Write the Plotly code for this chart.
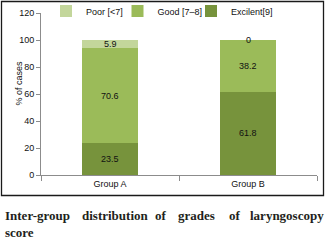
import plotly.graph_objects as go

groups = ["Group A", "Group B"]
series_names = ["Poor [<7]", "Good [7\u20138]", "Excilent[9]"]
excellent = [23.5, 61.8]
good = [70.6, 38.2]
poor = [5.9, 0]
y_ticks = [0, 20, 40, 60, 80, 100, 120]
y_title = "% of cases"
caption_line1 = ["Inter-group", "distribution", "of", "grades", "of", "laryngoscopy"]
caption_line2 = "score"

colors = {"Poor [<7]": "#c3d69b", "Good [7\u20138]": "#9bbb59", "Excilent[9]": "#77933c"}

W, H = 325, 240
L, R, T, B = 41, 8, 13, 65
pw, ph = W - L - R, H - T - B

def px(x):
    return (x - L) / pw

def py(y):
    return (H - B - y) / ph

# legend slot per series (left edge in pixels)
legend_slots = {"Poor [<7]": ("legend", 46), "Good [7\u20138]": ("legend2", 117.5),
                "Excilent[9]": ("legend3", 191)}

fig = go.Figure()
stack = [("Excilent[9]", excellent), ("Good [7\u20138]", good), ("Poor [<7]", poor)]
for name, vals in stack:
    fig.add_trace(go.Bar(x=groups, y=vals, name=name, marker_color=colors[name],
                         marker_line_width=0, width=0.41, hoverinfo="skip",
                         legend=legend_slots[name][0]))

cum = [0.0] * len(groups)
annotations = []
for name, vals in stack:
    for i, g in enumerate(groups):
        mid = cum[i] + vals[i] / 2
        lab = f"{vals[i]:g}"
        annotations.append(dict(x=g, y=mid, xref="x", yref="y", text=lab, showarrow=False,
                                font=dict(family="Liberation Sans, Arial", size=9, color="#111"),
                                yanchor="middle"))
        cum[i] += vals[i]

annotations.append(dict(x=px(11), y=py(83.5), xref="paper", yref="paper", text=y_title,
                        textangle=-90, showarrow=False,
                        font=dict(family="Liberation Sans, Arial", size=9, color="#111")))

cap_x = [3, 80, 153, 176, 227, 248]
cap_font = dict(family="Liberation Serif, Times New Roman", size=13, color="#231f20")
for w, x in zip(caption_line1, cap_x):
    annotations.append(dict(x=px(x), y=py(215), xref="paper", yref="paper", text=f"<b>{w}</b>",
                            showarrow=False, xanchor="left", yanchor="middle", font=cap_font))
annotations.append(dict(x=px(3), y=py(232), xref="paper", yref="paper", text=f"<b>{caption_line2}</b>",
                        showarrow=False, xanchor="left", yanchor="middle", font=cap_font))

legend_style = dict(orientation="h", xanchor="left", y=py(11), yanchor="middle",
                    font=dict(family="Liberation Sans, Arial", size=9, color="#111"),
                    bgcolor="rgba(0,0,0,0)", itemwidth=30)
legends = {}
for name, (lid, lx) in legend_slots.items():
    legends[lid] = dict(legend_style, x=px(lx))

fig.update_layout(
    width=W, height=H, margin=dict(l=L, r=R, t=T, b=B, pad=0, autoexpand=False),
    barmode="stack", plot_bgcolor="white", paper_bgcolor="white",
    font=dict(family="Liberation Sans, Arial", size=9, color="#111"),
    showlegend=True,
    annotations=annotations,
    shapes=[dict(type="rect", xref="paper", yref="paper", x0=px(1.5), x1=px(323.5),
                 y0=py(195.5), y1=py(1.5), line=dict(color="#1a1a1a", width=1.3))],
    **legends,
)
fig.update_xaxes(type="category", range=[-0.5, 1.5], showline=True, linecolor="#8c8c8c", linewidth=1,
                 ticks="outside", tickson="boundaries", ticklen=5, tickcolor="#8c8c8c",
                 showgrid=False, zeroline=False, tickfont=dict(size=9))
fig.update_yaxes(range=[0, 120], tickvals=y_ticks, showline=True, linecolor="#8c8c8c", linewidth=1,
                 ticks="outside", ticklen=4, tickcolor="#8c8c8c", showgrid=False, zeroline=False,
                 tickfont=dict(size=9))

fig.write_html("out.html", config={"displayModeBar": False},
               post_script="document.body.style.margin='0';document.body.style.overflow='hidden';")
